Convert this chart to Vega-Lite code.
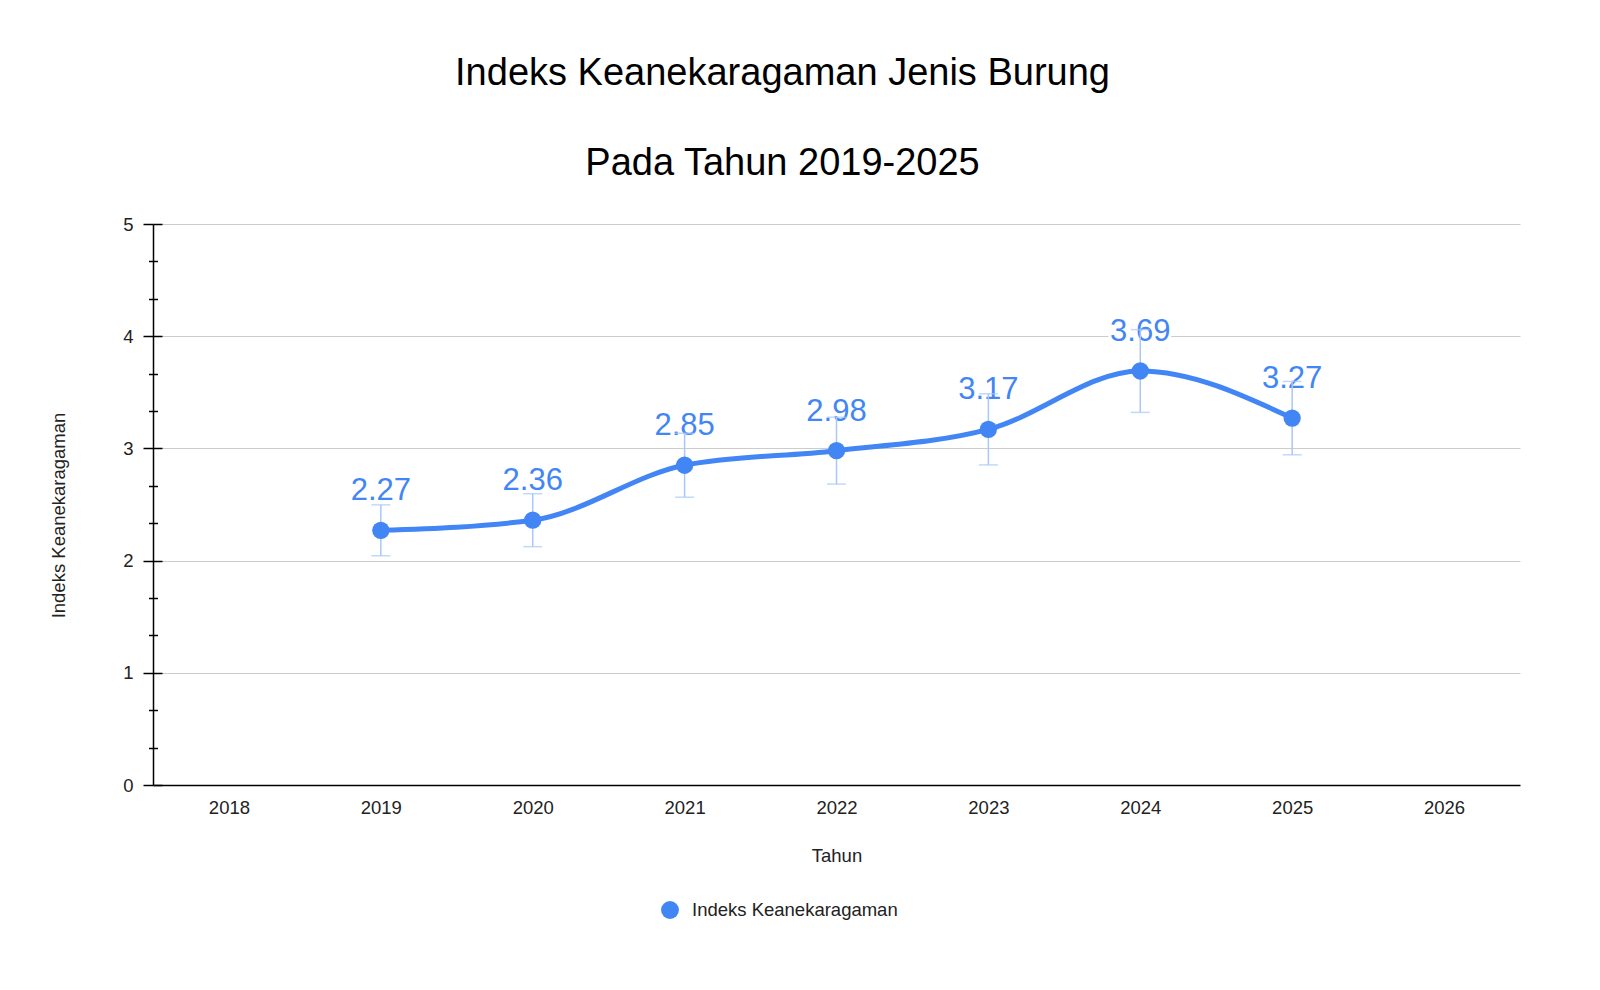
{
  "$schema": "https://vega.github.io/schema/vega-lite/v6.json",
  "autosize": {"type": "none"},
  "width": 1367,
  "height": 561,
  "padding": {"left": 153, "top": 224, "right": 80, "bottom": 205},
  "config": {
    "font": "Liberation Sans",
    "view": {"stroke": null}
  },
  "title": {
    "text": ["Indeks Keanekaragaman Jenis Burung", "Pada Tahun 2019-2025"],
    "fontSize": 38,
    "fontWeight": "normal",
    "color": "#000000",
    "lineHeight": 90,
    "anchor": "middle",
    "dx": -54,
    "baseline": "alphabetic",
    "offset": 2
  },
  "data": {
    "values": [
      {"tahun": 2019, "indeks": 2.27, "bawah": 2.043, "atas": 2.497, "seri": "Indeks Keanekaragaman"},
      {"tahun": 2020, "indeks": 2.36, "bawah": 2.124, "atas": 2.596, "seri": "Indeks Keanekaragaman"},
      {"tahun": 2021, "indeks": 2.85, "bawah": 2.565, "atas": 3.135, "seri": "Indeks Keanekaragaman"},
      {"tahun": 2022, "indeks": 2.98, "bawah": 2.682, "atas": 3.278, "seri": "Indeks Keanekaragaman"},
      {"tahun": 2023, "indeks": 3.17, "bawah": 2.853, "atas": 3.487, "seri": "Indeks Keanekaragaman"},
      {"tahun": 2024, "indeks": 3.69, "bawah": 3.321, "atas": 4.059, "seri": "Indeks Keanekaragaman"},
      {"tahun": 2025, "indeks": 3.27, "bawah": 2.943, "atas": 3.597, "seri": "Indeks Keanekaragaman"}
    ]
  },
  "resolve": {"axis": {"y": "independent"}},
  "encoding": {
    "x": {
      "field": "tahun",
      "type": "quantitative",
      "title": "Tahun",
      "scale": {"domain": [2017.5, 2026.5], "nice": false, "zero": false},
      "axis": {
        "values": [2018, 2019, 2020, 2021, 2022, 2023, 2024, 2025, 2026],
        "tickCount": 20,
        "labelExpr": "format(datum.value, 'd')",
        "grid": false,
        "ticks": false,
        "domainColor": "#000000",
        "domainWidth": 1.5,
        "labelFontSize": 18.5,
        "labelColor": "#222222",
        "labelPadding": 13,
        "titleFontSize": 18.5,
        "titleFontWeight": "normal",
        "titleColor": "#222222",
        "titlePadding": 30
      }
    }
  },
  "layer": [
    {
      "mark": {"type": "line", "interpolate": "monotone", "strokeWidth": 5, "color": "#4285F4"},
      "encoding": {
        "y": {
          "field": "indeks",
          "type": "quantitative",
          "title": "Indeks Keanekaragaman",
          "scale": {"domain": [0, 5], "nice": false},
          "axis": {
            "orient": "left",
            "values": [0, 0.3333333, 0.6666667, 1, 1.3333333, 1.6666667, 2, 2.3333333, 2.6666667, 3, 3.3333333, 3.6666667, 4, 4.3333333, 4.6666667, 5],
            "tickCount": 40,
            "labelOverlap": false,
            "labelExpr": "datum.value % 1 === 0 ? format(datum.value, 'd') : ''",
            "domainColor": "#000000",
            "domainWidth": 1.5,
            "tickColor": "#000000",
            "tickWidth": 1.5,
            "tickSize": {"condition": {"test": "datum.value % 1 === 0", "value": 10}, "value": 4.5},
            "labelFontSize": 18.5,
            "labelColor": "#222222",
            "labelPadding": 10,
            "gridColor": "#cccccc",
            "gridWidth": 1.2,
            "gridOpacity": {"condition": {"test": "datum.value % 1 === 0 && datum.value > 0", "value": 1}, "value": 0},
            "titleFontSize": 18.5,
            "titleFontWeight": "normal",
            "titleColor": "#222222",
            "titlePadding": 54,
            "titleY": 291
          }
        }
      }
    },
    {
      "mark": {"type": "text", "fontSize": 31, "baseline": "alphabetic", "dy": -30, "stroke": "#ffffff", "strokeWidth": 6, "fill": "#ffffff"},
      "encoding": {
        "y": {
          "field": "indeks",
          "type": "quantitative",
          "axis": {
            "orient": "left",
            "title": null,
            "values": [0, 0.3333333, 0.6666667, 1, 1.3333333, 1.6666667, 2, 2.3333333, 2.6666667, 3, 3.3333333, 3.6666667, 4, 4.3333333, 4.6666667, 5],
            "tickCount": 40,
            "labels": false,
            "domain": false,
            "grid": false,
            "tickColor": "#000000",
            "tickWidth": 1.5,
            "tickSize": {"condition": {"test": "datum.value % 1 === 0", "value": -9}, "value": -4.5}
          }
        },
        "text": {"field": "indeks", "type": "quantitative", "format": ".2f"}
      }
    },
    {
      "mark": {"type": "text", "fontSize": 31, "baseline": "alphabetic", "dy": -30, "color": "#4285F4"},
      "encoding": {
        "y": {"field": "indeks", "type": "quantitative", "axis": null},
        "text": {"field": "indeks", "type": "quantitative", "format": ".2f"}
      }
    },
    {
      "mark": {"type": "rule", "color": "#a8c7fa", "strokeWidth": 1.5},
      "encoding": {
        "y": {"field": "bawah", "type": "quantitative", "axis": null},
        "y2": {"field": "atas"}
      }
    },
    {
      "mark": {"type": "tick", "orient": "horizontal", "color": "#a8c7fa", "size": 19, "thickness": 1.5},
      "encoding": {
        "y": {"field": "bawah", "type": "quantitative", "axis": null}
      }
    },
    {
      "mark": {"type": "tick", "orient": "horizontal", "color": "#a8c7fa", "size": 19, "thickness": 1.5},
      "encoding": {
        "y": {"field": "atas", "type": "quantitative", "axis": null}
      }
    },
    {
      "mark": {"type": "point", "filled": true, "shape": "circle", "size": 300, "opacity": 1},
      "encoding": {
        "y": {"field": "indeks", "type": "quantitative", "axis": null},
        "color": {
          "field": "seri",
          "type": "nominal",
          "scale": {"range": ["#4285F4"]},
          "legend": {
            "title": null,
            "orient": "none",
            "legendX": 507,
            "legendY": 676,
            "symbolType": "circle",
            "symbolSize": 320,
            "symbolOpacity": 1,
            "labelFontSize": 18.5,
            "labelColor": "#222222",
            "labelOffset": 12,
            "labelLimit": 0
          }
        }
      }
    }
  ]
}
